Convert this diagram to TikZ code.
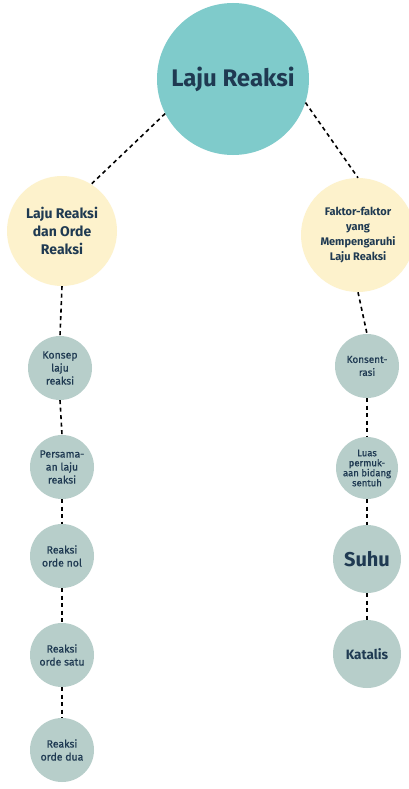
\documentclass[tikz,border=0pt]{standalone}
\usepackage{fontspec}
\setmainfont{Fira Sans}
\newfontfamily\medfont[FakeBold=0.7]{Fira Sans}
\definecolor{mainteal}{HTML}{7FCBCB}
\definecolor{cream}{HTML}{FDF2CC}
\definecolor{sage}{HTML}{B7CECA}
\definecolor{ink}{HTML}{1F3A52}
\begin{document}
\begin{tikzpicture}[x=1pt,y=-1pt,
  bubble/.style={circle,inner sep=0pt,align=center,text=ink},
  big/.style={bubble,fill=mainteal,minimum size=152pt},
  topic/.style={bubble,fill=cream},
  leaf/.style={bubble,fill=sage,minimum size=64pt},
  conn/.style={draw=black,line width=1.6pt,dash pattern=on 4pt off 3.5pt}]
\clip (0,0) rectangle (409,789);
\fill[white] (0,0) rectangle (409,789);
% main
\node[big,font=\fontsize{24}{30}\selectfont\bfseries] (main) at (233,79) {Laju Reaksi};
% topics
\node[topic,minimum size=110pt,font=\fontsize{14}{18}\selectfont\bfseries] (left) at (62,231)
  {Laju Reaksi\\dan Orde\\Reaksi};
\node[topic,minimum size=114pt,font=\fontsize{11}{15}\selectfont\bfseries] (right) at (358,235)
  {Faktor-faktor\\yang\\Mempengaruhi\\Laju Reaksi};
% left column
\node[leaf,font=\fontsize{10.5}{13}\medfont] (l1) at (60,368) {Konsep\\laju\\reaksi};
\node[leaf,font=\fontsize{10.5}{13}\medfont] (l2) at (62,467) {Persama-\\an laju\\reaksi};
\node[leaf,font=\fontsize{10.5}{13}\medfont] (l3) at (62,556) {Reaksi\\orde nol};
\node[leaf,font=\fontsize{10.5}{13}\medfont] (l4) at (62,655) {Reaksi\\orde satu};
\node[leaf,font=\fontsize{10.5}{13}\medfont] (l5) at (62,750) {Reaksi\\orde dua};
% right column
\node[leaf,font=\fontsize{10}{13}\medfont] (r1) at (367,366) {Konsent-\\rasi};
\node[leaf,minimum size=62pt,font=\fontsize{9.5}{10}\medfont] (r2) at (367,468) {Luas\\permuk-\\aan bidang\\sentuh};
\node[leaf,minimum size=68pt,font=\fontsize{20}{24}\selectfont\bfseries] (r3) at (367,559) {Suhu};
\node[leaf,minimum size=68pt,font=\fontsize{13.5}{18}\selectfont\bfseries] (r4) at (367,654) {Katalis};
% connectors
\draw[conn] (main.207) -- (left.58);
\draw[conn] (main.-18) -- (right.90);
\draw[conn] (left.south) -- (l1.north);
\draw[conn] (l1.south) -- (l2.north);
\draw[conn] (l2.south) -- (l3.north);
\draw[conn] (l3.south) -- (l4.north);
\draw[conn] (l4.south) -- (l5.north);
\draw[conn] (right.south) -- (r1.north);
\draw[conn] (r1.south) -- (r2.north);
\draw[conn] (r2.south) -- (r3.north);
\draw[conn] (r3.south) -- (r4.north);
\end{tikzpicture}
\end{document}
